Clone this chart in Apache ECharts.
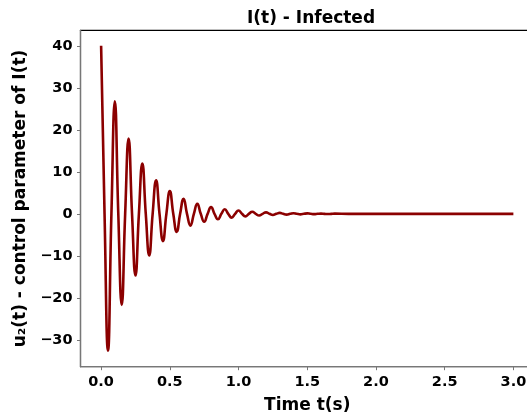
<!DOCTYPE html>
<html>
<head>
<meta charset="utf-8">
<script src="https://cdn.jsdelivr.net/npm/echarts@6/dist/echarts.min.js"></script>
<style>
html,body{margin:0;padding:0;background:#fff;overflow:hidden;}
#c{width:536px;height:419px;}
</style>
</head>
<body>
<div id="c"></div>
<script>
// Time samples (s): peaks/troughs and zero crossings
const tValues = [
  0.000, 0.025, 0.050, 0.075, 0.100, 0.125, 0.150, 0.175, 0.200, 0.225,
  0.250, 0.275, 0.300, 0.325, 0.350, 0.375, 0.400, 0.425, 0.450, 0.475,
  0.500, 0.525, 0.550, 0.575, 0.600, 0.625, 0.650, 0.675, 0.700, 0.725,
  0.750, 0.775, 0.800, 0.825, 0.850, 0.875, 0.900, 0.925, 0.950, 0.975,
  1.000, 1.025, 1.050, 1.075, 1.100, 1.125, 1.150, 1.175, 1.200, 1.225,
  1.250, 1.275, 1.300, 1.325, 1.350, 1.375, 1.400, 1.425, 1.450, 1.475,
  1.500, 1.525, 1.550, 1.575, 1.600, 1.625, 1.650, 1.675, 1.700, 1.800,
  2.000, 2.500, 3.000
];
// u2(t) values
const uValues = [
  40.0, 0, -32.6, 0, 26.8, 0, -21.7, 0, 17.9, 0,
  -14.7, 0, 12.0, 0, -9.9, 0, 8.0, 0, -6.5, 0,
  5.4, 0, -4.3, 0, 3.6, 0, -2.8, 0, 2.4, 0,
  -1.9, 0, 1.6, 0, -1.3, 0, 1.1, 0, -0.9, 0,
  0.8, 0, -0.6, 0, 0.5, 0, -0.4, 0, 0.35, 0,
  -0.28, 0, 0.22, 0, -0.18, 0, 0.15, 0, -0.12, 0,
  0.1, 0, -0.08, 0, 0.06, 0, -0.05, 0, 0.04, 0,
  0, 0, 0
];
const xTicks = [0, 0.5, 1.0, 1.5, 2.0, 2.5, 3.0];
const yTicks = [-30, -20, -10, 0, 10, 20, 30, 40];

const FONT = 'DejaVu Sans';
const chart = echarts.init(document.getElementById('c'), null, {renderer: 'canvas'});
const data = tValues.map((t, i) => [t, uValues[i]]);

chart.setOption({
  animation: false,
  backgroundColor: '#fff',
  title: {
    text: 'I(t) - Infected',
    left: 306, top: 5, textAlign: 'center',
    textStyle: {fontFamily: FONT, fontWeight: 'bold', fontSize: 17, color: '#000'}
  },
  grid: {
    left: 80.5, top: 30.3, right: 2, bottom: 52.3,
    show: true, borderColor: '#000', borderWidth: 1.2, backgroundColor: 'transparent'
  },
  xAxis: {
    type: 'value', min: -0.15, max: 3.15,
    name: 'Time t(s)', nameLocation: 'middle', nameGap: 30,
    nameTextStyle: {fontFamily: FONT, fontWeight: 'bold', fontSize: 17, color: '#000'},
    axisLine: {onZero: false, lineStyle: {color: '#777', width: 1.2}},
    axisTick: {show: true, length: 3.5, customValues: xTicks, lineStyle: {color: '#777'}},
    axisLabel: {
      customValues: xTicks, margin: 8,
      fontFamily: FONT, fontWeight: 'bold', fontSize: 14.5, color: '#000',
      formatter: v => Number(v).toFixed(1)
    },
    splitLine: {show: false}
  },
  yAxis: {
    type: 'value', min: -36.4, max: 43.7,
    name: 'u\u2082(t) - control parameter of I(t)', nameLocation: 'middle', nameGap: 50, nameRotate: 90,
    nameTextStyle: {fontFamily: FONT, fontWeight: 'bold', fontSize: 17, color: '#000'},
    axisLine: {show: true, onZero: false, lineStyle: {color: '#777', width: 1.2}},
    axisTick: {show: true, length: 3.5, customValues: yTicks, lineStyle: {color: '#777'}},
    axisLabel: {
      customValues: yTicks, margin: 8,
      fontFamily: FONT, fontWeight: 'bold', fontSize: 14.5, color: '#000',
      formatter: v => String(v).replace('-', '\u2212')
    },
    splitLine: {show: false}
  },
  series: [{
    type: 'line', data: data, smooth: 0.5, showSymbol: false, symbol: 'none',
    lineStyle: {color: '#8b0000', width: 2.6}
  }]
});
</script>
</body>
</html>
